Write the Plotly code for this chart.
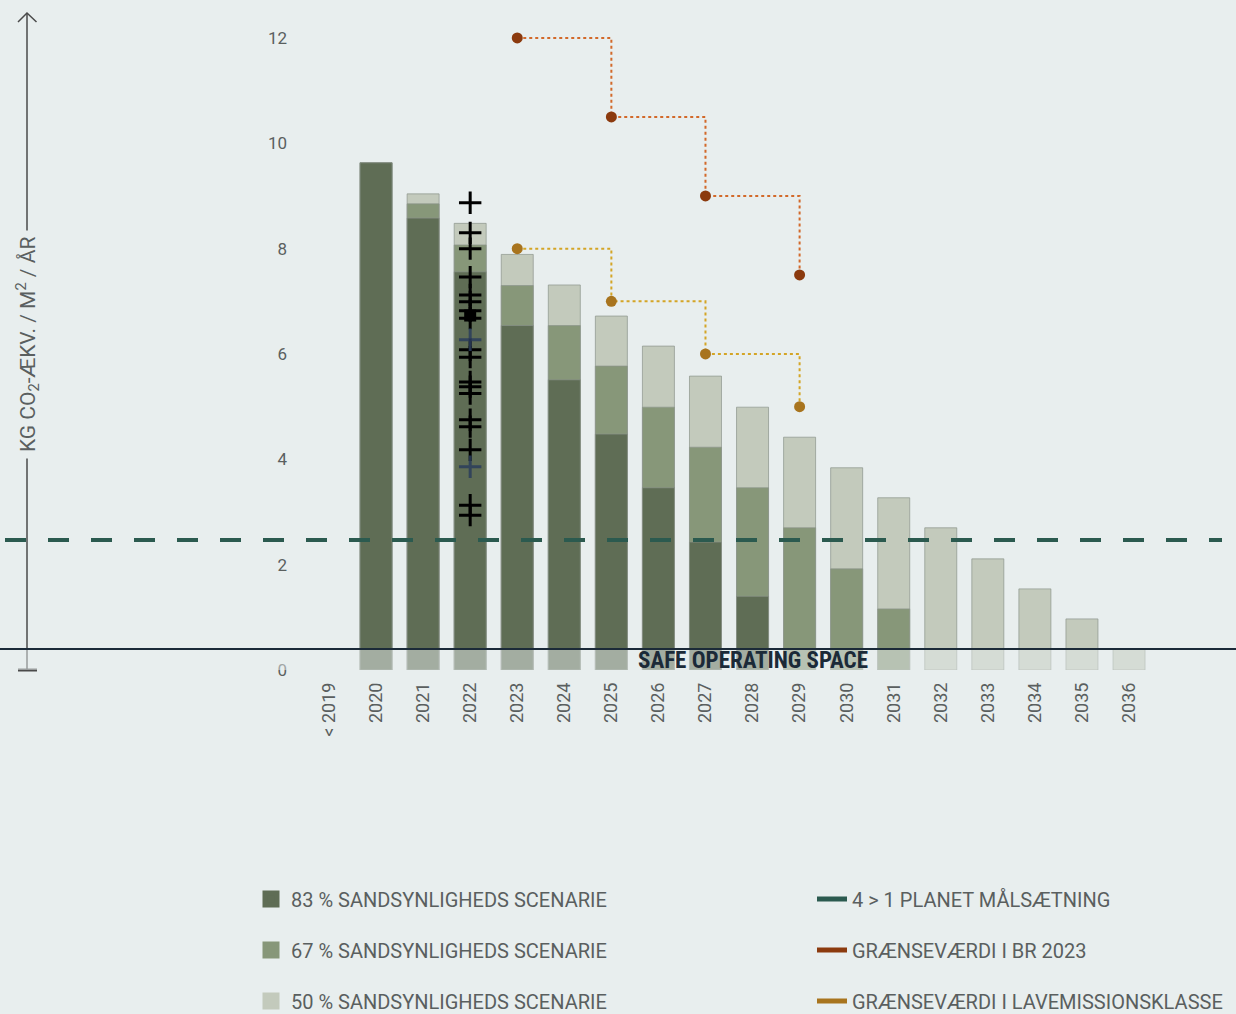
import plotly.graph_objects as go

# --- data -------------------------------------------------------------
years = ["< 2019", "2020", "2021", "2022", "2023", "2024", "2025", "2026", "2027",
         "2028", "2029", "2030", "2031", "2032", "2033", "2034", "2035", "2036"]

# level (kg CO2-eq / m2 / yr) reached by each probability scenario
level_83 = [None, 9.63, 8.58, 7.56, 6.54, 5.51, 4.48, 3.46, 2.43, 1.40,
            None, None, None, None, None, None, None, None]
level_67 = [None, 9.63, 8.85, 8.07, 7.30, 6.54, 5.77, 4.99, 4.23, 3.46,
            2.70, 1.92, 1.16, None, None, None, None, None]
level_50 = [None, 9.63, 9.04, 8.48, 7.89, 7.31, 6.72, 6.15, 5.58, 4.99,
            4.42, 3.84, 3.27, 2.70, 2.11, 1.54, 0.97, 0.40]

limit_years = ["2023", "2025", "2027", "2029"]
br2023 = [12.0, 10.5, 9.0, 7.5]
lavemission = [8.0, 7.0, 6.0, 5.0]

# individual building results plotted in 2022
cases_2022 = [8.87, 8.30, 8.00, 7.46, 7.12, 6.99, 6.82, 6.68, 6.08, 5.94,
              5.47, 5.38, 5.25, 4.75, 4.62, 4.18, 3.13, 2.94]
cases_2022_blue = [6.27, 3.86]
cases_2022_square = [6.73]

planet_target = 2.47
safe_space = 0.40

# --- styling ----------------------------------------------------------
BG = "#e8eeee"
DARK = "#5f6d55"
MID = "#879779"
LIGHT = "#c3cabc"
TEAL = "#2b5a4f"
NAVY = "#1b2a38"
RED_DOT, RED_LINE = "#8b3a0e", "#d2692a"
GOLD_DOT, GOLD_LINE = "#a8741e", "#d4a526"
TXT = "#5a5f5f"
COND = "Roboto Condensed, Liberation Sans Narrow, DejaVu Sans Condensed, Roboto, sans-serif"
BASE = "Roboto, sans-serif"

H_PLOT_TOP, H_PLOT_BOT = 20, 670


def py(px):
    # pixel row -> paper y
    return (H_PLOT_BOT - px) / (H_PLOT_BOT - H_PLOT_TOP)


def pxx(px):
    return px / 1236


def bar_marker(color):
    # first category is empty, its outline only feeds the (bigger) legend swatch
    n = len(years)
    return dict(color=color,
                line=dict(color=[color] + ["rgba(140,148,140,0.7)"] * (n - 1),
                          width=[5] + [1] * (n - 1)))


fig = go.Figure()

fig.add_trace(go.Bar(x=years, y=level_50, name="50 % SANDSYNLIGHEDS SCENARIE",
                     marker=bar_marker(LIGHT), legendrank=3, legendgroup="b3"))
fig.add_trace(go.Bar(x=years, y=level_67, name="67 % SANDSYNLIGHEDS SCENARIE",
                     marker=bar_marker(MID), legendrank=2, legendgroup="b2"))
fig.add_trace(go.Bar(x=years, y=level_83, name="83 % SANDSYNLIGHEDS SCENARIE",
                     marker=bar_marker(DARK), legendrank=1, legendgroup="b1"))

# crosses for 2022
fig.add_trace(go.Scatter(x=["2022"] * len(cases_2022), y=cases_2022, mode="markers",
                         marker=dict(symbol="cross-thin", size=16,
                                     line=dict(color="black", width=3)),
                         showlegend=False, hoverinfo="y"))
fig.add_trace(go.Scatter(x=["2022"] * len(cases_2022_blue), y=cases_2022_blue, mode="markers",
                         marker=dict(symbol="cross-thin", size=16,
                                     line=dict(color="#2b3d5c", width=3)),
                         opacity=0.85, showlegend=False, hoverinfo="y"))
fig.add_trace(go.Scatter(x=["2022"] * len(cases_2022_square), y=cases_2022_square, mode="markers",
                         marker=dict(symbol="square", size=12, color="black"),
                         showlegend=False, hoverinfo="y"))

# stepped limit values
for vals, dot, line in [(br2023, RED_DOT, RED_LINE), (lavemission, GOLD_DOT, GOLD_LINE)]:
    fig.add_trace(go.Scatter(x=limit_years, y=vals, mode="lines", line_shape="hv",
                             line=dict(color=line, width=2, dash="dot"),
                             showlegend=False, hoverinfo="skip"))
    fig.add_trace(go.Scatter(x=limit_years, y=vals, mode="markers",
                             marker=dict(color=dot, size=11),
                             showlegend=False, hoverinfo="y"))

# legend entries for the line series
for i, (name, col) in enumerate([("4 > 1 PLANET MÅLSÆTNING", TEAL),
                                 ("GRÆNSEVÆRDI I BR 2023", RED_DOT),
                                 ("GRÆNSEVÆRDI I LAVEMISSIONSKLASSE", GOLD_DOT)]):
    fig.add_trace(go.Scatter(x=[None], y=[None], mode="lines", name=name,
                             line=dict(color=col, width=5), legend="legend2",
                             legendrank=i + 1, legendgroup=f"l{i}"))

shapes = [
    # fade below the safe operating space line
    dict(type="rect", xref="paper", yref="y", x0=0, x1=1, y0=0, y1=safe_space,
         fillcolor="rgba(232,238,238,0.5)", line=dict(width=0), layer="above"),
    dict(type="line", xref="paper", yref="y", x0=0, x1=1, y0=safe_space, y1=safe_space,
         line=dict(color=NAVY, width=2), layer="above"),
    dict(type="line", xref="paper", yref="y", x0=pxx(5), x1=pxx(1222),
         y0=planet_target, y1=planet_target,
         line=dict(color=TEAL, width=4, dash="21px,22px"), layer="above"),
    # y-axis arrow
    dict(type="line", xref="paper", yref="paper", x0=pxx(27), x1=pxx(27),
         y0=py(670), y1=py(14), line=dict(color="#4a4a4a", width=1.5), layer="below"),
    dict(type="line", xref="paper", yref="paper", x0=pxx(18), x1=pxx(37),
         y0=py(670), y1=py(670), line=dict(color="#4a4a4a", width=3), layer="below"),
    dict(type="path", xref="paper", yref="paper",
         path=f"M {pxx(18)},{py(22)} L {pxx(27)},{py(13)} L {pxx(36.5)},{py(22)}",
         line=dict(color="#4a4a4a", width=1.5), layer="below"),
]

annotations = [
    dict(text="KG CO<sub>2</sub>-ÆKV. / M<sup>2</sup> / ÅR", xref="paper", yref="paper",
         x=pxx(27), y=py(345), xanchor="center", yanchor="middle", textangle=-90,
         showarrow=False, bgcolor=BG, borderpad=6,
         font=dict(family=BASE, size=21, color=TXT)),
    dict(text="SAFE OPERATING SPACE", xref="x", yref="y", x=9, y=0.18,
         xanchor="center", yanchor="middle", showarrow=False,
         font=dict(family=COND, size=23, color=NAVY, weight="bold")),
]

legend_font = dict(family=BASE, size=20, color=TXT)

fig.update_layout(
    width=1236, height=1014,
    paper_bgcolor=BG, plot_bgcolor=BG,
    barmode="overlay", bargap=0.32,
    margin=dict(l=0, r=0, t=H_PLOT_TOP, b=1014 - H_PLOT_BOT, autoexpand=False),
    font=dict(family=BASE, color=TXT),
    shapes=shapes, annotations=annotations,
    xaxis=dict(type="category", range=[-329 / 47.06, (1236 - 329) / 47.06],
               tickangle=-90, showgrid=False, zeroline=False, showline=False,
               ticks="", ticklabelstandoff=8,
               tickfont=dict(family=BASE, size=18, color=TXT)),
    yaxis=dict(range=[0, (H_PLOT_BOT - H_PLOT_TOP) / 52.67], anchor="free",
               position=pxx(287), tickvals=[0, 2, 4, 6, 8, 10, 12],
               showgrid=False, zeroline=False, showline=False, ticks="",
               tickfont=dict(family=BASE, size=17, color=TXT)),
    legend=dict(x=pxx(251), y=py(879.5), xanchor="left", yanchor="top",
                orientation="v", tracegroupgap=22, bgcolor="rgba(0,0,0,0)",
                font=legend_font),
    legend2=dict(x=pxx(812), y=py(879.5), xanchor="left", yanchor="top",
                 orientation="v", tracegroupgap=22, bgcolor="rgba(0,0,0,0)",
                 font=legend_font),
)

fig.write_html("out.html", config={"displayModeBar": False},
               post_script="document.body.style.margin='0';"
                           "document.body.style.background='#e8eeee';")
